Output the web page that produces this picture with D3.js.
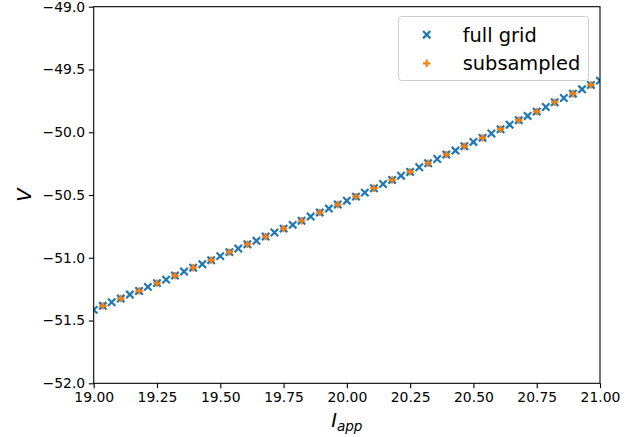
<!DOCTYPE html>
<html>
<head>
<meta charset="utf-8">
<script src="https://cdn.jsdelivr.net/npm/d3@7"></script>
<style>
  body { margin: 0; background: #fff; }
  text { font-family: "DejaVu Sans", sans-serif; }
</style>
</head>
<body>
<div id="chart"></div>
<script>
// full grid (57 points)
const gridX = [19.000, 19.036, 19.071, 19.107, 19.143, 19.179, 19.214, 19.250, 19.286, 19.321,
  19.357, 19.393, 19.429, 19.464, 19.500, 19.536, 19.571, 19.607, 19.643, 19.679,
  19.714, 19.750, 19.786, 19.821, 19.857, 19.893, 19.929, 19.964, 20.000, 20.036,
  20.071, 20.107, 20.143, 20.179, 20.214, 20.250, 20.286, 20.321, 20.357, 20.393,
  20.429, 20.464, 20.500, 20.536, 20.571, 20.607, 20.643, 20.679, 20.714, 20.750,
  20.786, 20.821, 20.857, 20.893, 20.929, 20.964, 21.000];
const gridV = [-51.415, -51.383, -51.354, -51.325, -51.293, -51.264, -51.232, -51.202, -51.174, -51.142,
  -51.110, -51.079, -51.051, -51.019, -50.987, -50.955, -50.927, -50.892, -50.865, -50.831,
  -50.799, -50.768, -50.738, -50.705, -50.672, -50.640, -50.608, -50.576, -50.545, -50.513,
  -50.481, -50.446, -50.412, -50.380, -50.346, -50.316, -50.279, -50.247, -50.213, -50.178,
  -50.146, -50.111, -50.077, -50.045, -50.010, -49.976, -49.940, -49.904, -49.870, -49.836,
  -49.799, -49.761, -49.727, -49.693, -49.658, -49.623, -49.589];

// subsampled (every other point)
const subX = [19.036, 19.107, 19.179, 19.250, 19.321, 19.393, 19.464, 19.536, 19.607, 19.679,
  19.750, 19.821, 19.893, 19.964, 20.036, 20.107, 20.179, 20.250, 20.321, 20.393,
  20.464, 20.536, 20.607, 20.679, 20.750, 20.821, 20.893, 20.964];
const subV = [-51.383, -51.325, -51.264, -51.202, -51.142, -51.079, -51.019, -50.955, -50.892, -50.831,
  -50.768, -50.705, -50.640, -50.576, -50.513, -50.446, -50.380, -50.316, -50.247, -50.178,
  -50.111, -50.045, -49.976, -49.904, -49.836, -49.761, -49.693, -49.623];

const xTicks = [19.00, 19.25, 19.50, 19.75, 20.00, 20.25, 20.50, 20.75, 21.00];
const yTicks = [-52.0, -51.5, -51.0, -50.5, -50.0, -49.5, -49.0];

const W = 639, H = 437;
const mLeft = 93.7, mRight = 600, mTop = 6.7, mBottom = 383.3;

const svg = d3.select("#chart").append("svg")
  .attr("width", W).attr("height", H);

const x = d3.scaleLinear().domain([19, 21]).range([mLeft, mRight]);
const y = d3.scaleLinear().domain([-52, -49]).range([mBottom, mTop]);

svg.append("clipPath").attr("id", "clip")
  .append("rect")
  .attr("x", mLeft).attr("y", mTop)
  .attr("width", mRight - mLeft).attr("height", mBottom - mTop);

const plot = svg.append("g").attr("clip-path", "url(#clip)");
const blue = "#1f77b4", orange = "#ff7f0e";
const s = 3.7;

const full = gridX.map((v, i) => ({ x: v, v: gridV[i] }));
const sub = subX.map((v, i) => ({ x: v, v: subV[i] }));

plot.selectAll("path.full").data(full).enter().append("path")
  .attr("class", "full")
  .attr("d", d => {
    const cx = x(d.x), cy = y(d.v);
    return `M${cx - s},${cy - s}L${cx + s},${cy + s}M${cx - s},${cy + s}L${cx + s},${cy - s}`;
  })
  .attr("stroke", blue).attr("stroke-width", 2.2).attr("fill", "none");

plot.selectAll("path.sub").data(sub).enter().append("path")
  .attr("class", "sub")
  .attr("d", d => {
    const cx = x(d.x), cy = y(d.v);
    return `M${cx - s},${cy}L${cx + s},${cy}M${cx},${cy - s}L${cx},${cy + s}`;
  })
  .attr("stroke", orange).attr("stroke-width", 2.2).attr("fill", "none");

// axes
const xAxis = svg.append("g")
  .attr("transform", `translate(0,${mBottom})`)
  .call(d3.axisBottom(x).tickValues(xTicks).tickFormat(d3.format(".2f"))
    .tickSize(4.9).tickPadding(3.6));
const yAxis = svg.append("g")
  .attr("transform", `translate(${mLeft},0)`)
  .call(d3.axisLeft(y).tickValues(yTicks)
    .tickFormat(d => d3.format(".1f")(d))
    .tickSize(4.9).tickPadding(3.6));

[xAxis, yAxis].forEach(g => {
  g.select(".domain").remove();
  g.selectAll(".tick line").attr("stroke", "#000").attr("stroke-width", 1.1);
  g.selectAll(".tick text").attr("fill", "#000")
    .style("font-size", "13.9px").style("font-family", "DejaVu Sans");
});

svg.append("rect")
  .attr("x", mLeft).attr("y", mTop)
  .attr("width", mRight - mLeft).attr("height", mBottom - mTop)
  .attr("fill", "none").attr("stroke", "#000").attr("stroke-width", 1.1);

// axis labels
const xl = svg.append("text")
  .attr("x", (mLeft + mRight) / 2).attr("y", 426.5)
  .attr("text-anchor", "middle")
  .style("font-size", "19.4px").style("font-style", "italic");
xl.append("tspan").text("I");
xl.append("tspan").attr("dy", 4).style("font-size", "13.6px").text("app");

svg.append("text")
  .attr("transform", `translate(31,${(mTop + mBottom) / 2}) rotate(-90)`)
  .attr("text-anchor", "middle")
  .style("font-size", "19.4px").style("font-style", "italic")
  .text("V");

// legend
const lg = svg.append("g");
lg.append("rect")
  .attr("x", 398.5).attr("y", 16.5).attr("width", 190).attr("height", 64)
  .attr("rx", 3).attr("fill", "#fff").attr("fill-opacity", 0.8)
  .attr("stroke", "#cccccc").attr("stroke-width", 1);
const items = [
  { label: "full grid", color: blue, kind: "x", cy: 34.7 },
  { label: "subsampled", color: orange, kind: "+", cy: 63.3 }
];
items.forEach(it => {
  const cx = 426.7, cy = it.cy;
  const d = it.kind === "x"
    ? `M${cx - s},${cy - s}L${cx + s},${cy + s}M${cx - s},${cy + s}L${cx + s},${cy - s}`
    : `M${cx - s},${cy}L${cx + s},${cy}M${cx},${cy - s}L${cx},${cy + s}`;
  lg.append("path").attr("d", d).attr("stroke", it.color)
    .attr("stroke-width", 2.2).attr("fill", "none");
  lg.append("text").attr("x", 462.7).attr("y", cy + 7)
    .style("font-size", "19.4px").attr("fill", "#000").text(it.label);
});
</script>
</body>
</html>
